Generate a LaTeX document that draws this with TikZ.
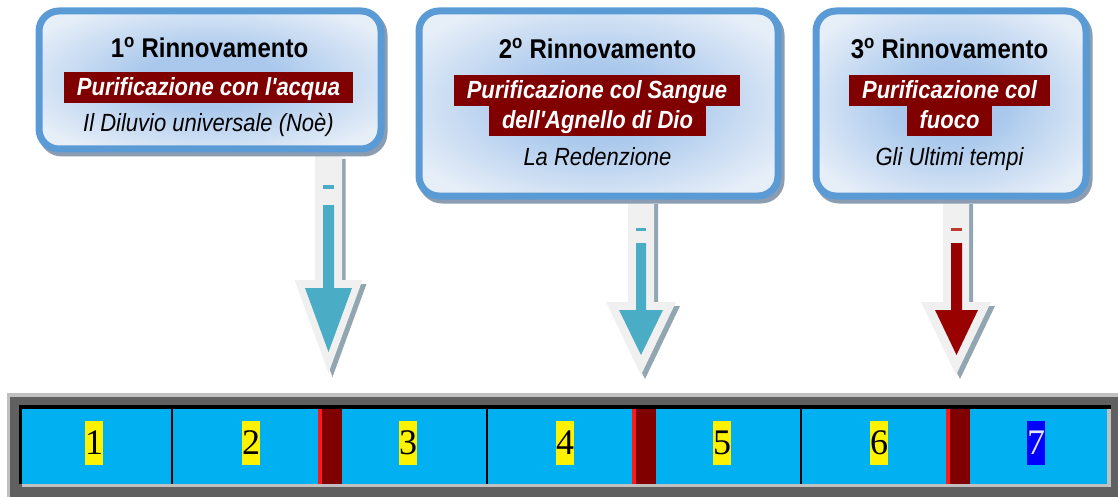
\documentclass[tikz,border=0pt]{standalone}
\usepackage{fontspec}
\usepackage{graphicx}
\newfontfamily\arialf{Liberation Sans}
\newfontfamily\timesf{Liberation Serif}
\usetikzlibrary{shadows}
\definecolor{bordc}{HTML}{5B9BD5}
\definecolor{shadc}{HTML}{8C9DB2}
\definecolor{glowc}{HTML}{A9C8EC}
\definecolor{edgec}{HTML}{E6EEF8}
\definecolor{bandc}{HTML}{800000}
\definecolor{tealc}{HTML}{4BACC6}
\definecolor{arrred}{HTML}{990000}
\definecolor{dashred}{HTML}{C0392B}
\definecolor{arrout}{HTML}{F0F0F0}
\definecolor{arrshad}{HTML}{91A6B1}
\definecolor{cyanc}{HTML}{00B0F0}
\definecolor{dgray}{HTML}{606060}
\definecolor{lgray}{HTML}{C0C0C0}
\definecolor{redstripe}{HTML}{FF1A1A}
\definecolor{darkband}{HTML}{800000}
\definecolor{numblue}{HTML}{0000FF}
\definecolor{numwhite}{HTML}{E6E6F5}
\newcommand\talltext[1]{\scalebox{1}[1.13]{#1}}
\pgfdeclareradialshading{boxglow}{\pgfpoint{0bp}{0bp}}{color(0bp)=(glowc); color(10bp)=(glowc); color(30bp)=(edgec); color(50bp)=(edgec)}
\tikzset{
  panel/.style={draw=bordc, line width=7pt, rounded corners=20pt, shading=boxglow,
    drop shadow={shadow xshift=3pt, shadow yshift=-4pt, draw=shadc, fill=shadc, line width=7pt, opacity=1},
    inner sep=0pt},
  title/.style={font=\arialf\bfseries\fontsize{24}{28}\selectfont, anchor=base, inner sep=0pt},
  band/.style={fill=bandc, text=white, font=\arialf\bfseries\itshape\fontsize{22}{26}\selectfont,
    inner xsep=13pt, inner ysep=5pt, text height=18.5pt, text depth=2.5pt},
  sub/.style={font=\arialf\itshape\fontsize{22}{26}\selectfont, anchor=base, inner sep=0pt},
  cellnum/.style={fill=yellow, font=\timesf\fontsize{36}{40}\selectfont, inner sep=0pt,
    text height=33pt, text depth=11pt, minimum width=18pt},
  lastnum/.style={cellnum, fill=numblue, text=numwhite},
  arrowbody/.style={fill=arrout},
  arrowshadow/.style={fill=arrshad},
  divider/.style={line width=2pt, black},
}
\begin{document}
\begin{tikzpicture}[x=1pt,y=-1pt]
\useasboundingbox (0,0) rectangle (1118,497);

% ---------- block arrows (behind the panels) ----------
% arrow 1
\fill[arrowshadow] (318.5,159) -- (345.5,159) -- (345.5,284) -- (366.5,284) -- (332.5,377) -- (298.5,284) -- (318.5,284) -- cycle;
\fill[arrowbody] (315,155) -- (342,155) -- (342,280) -- (362.5,280) -- (328.5,373) -- (294.5,280) -- (315,280) -- cycle;
\fill[tealc] (323,205) -- (334,205) -- (334,288) -- (352,288) -- (328.5,352) -- (305,288) -- (323,288) -- cycle;
\fill[tealc] (323,185) rectangle (334,189);
% arrow 2
\fill[arrowshadow] (632,204) -- (658,204) -- (658,306) -- (680,306) -- (645,379) -- (610,306) -- (632,306) -- cycle;
\fill[arrowbody] (628,200) -- (654,200) -- (654,302) -- (676,302) -- (641,375) -- (606,302) -- (628,302) -- cycle;
\fill[tealc] (636,243) -- (646,243) -- (646,310) -- (663,310) -- (641,355) -- (619,310) -- (636,310) -- cycle;
\fill[tealc] (636,228) rectangle (646,230.5);
% arrow 3
\fill[arrowshadow] (947,204) -- (973,204) -- (973,306) -- (995,306) -- (960,379) -- (925,306) -- (947,306) -- cycle;
\fill[arrowbody] (943,200) -- (969,200) -- (969,302) -- (991,302) -- (956,375) -- (921,302) -- (943,302) -- cycle;
\fill[arrred] (951,243) -- (962,243) -- (962,310) -- (978,310) -- (956.5,355) -- (935,310) -- (951,310) -- cycle;
\fill[dashred] (951,228) rectangle (962,230.5);

% ---------- panels ----------
\node[panel, minimum width=342pt, minimum height=138pt] (p1) at (210,80) {};
\node[panel, minimum width=359pt, minimum height=185pt] (p2) at (598.5,103.5) {};
\node[panel, minimum width=270pt, minimum height=185pt] (p3) at (951,103.5) {};

% panel 1 texts
\node[title] (t1) at (209.5,58) {\talltext{1\textsuperscript{o} Rinnovamento}};
\node[band] (b1) at (208.5,87.5) {\talltext{Purificazione con l'acqua}};
\node[sub] (s1) at (208.5,132) {\talltext{Il Diluvio universale (Noè)}};
% panel 2 texts
\node[title] (t2) at (597.5,59) {\talltext{2\textsuperscript{o} Rinnovamento}};
\node[band] (b2a) at (597,90.5) {\talltext{Purificazione col Sangue}};
\node[band] (b2b) at (597.5,121) {\talltext{dell'Agnello di Dio}};
\node[sub] (s2) at (597.5,166) {\talltext{La Redenzione}};
% panel 3 texts
\node[title] (t3) at (949.5,59) {\talltext{3\textsuperscript{o} Rinnovamento}};
\node[band] (b3a) at (949.5,90.5) {\talltext{Purificazione col}};
\node[band] (b3b) at (949.5,121) {\talltext{fuoco}};
\node[sub] (s3) at (949.5,166) {\talltext{Gli Ultimi tempi}};

% ---------- timeline bar ----------
\fill[lgray] (7,393) rectangle (1118,497);
\fill[dgray] (10,397) rectangle (1118,497);
\fill[black] (19,405) rectangle (1111,409);
\fill[black] (19,405) rectangle (22,484);
\fill[cyanc] (22,409) rectangle (1107,484);
\fill[lgray] (22,484) rectangle (1111,487);
\fill[lgray] (1107,409) rectangle (1111,487);
\draw[divider] (172,409) -- (172,484);
\draw[divider] (487,409) -- (487,484);
\draw[divider] (801,409) -- (801,484);
\foreach \bx in {318,632,946}{
  \fill[darkband] (\bx,409) rectangle (\bx+24,484);
  \fill[redstripe] (\bx,409) rectangle (\bx+4,484);
}
\node[cellnum] (n1) at (94,443) {1};
\node[cellnum] (n2) at (251,443) {2};
\node[cellnum] (n3) at (408,443) {3};
\node[cellnum] (n4) at (565,443) {4};
\node[cellnum] (n5) at (722,443) {5};
\node[cellnum] (n6) at (879,443) {6};
\node[lastnum] (n7) at (1036,443) {7};
\end{tikzpicture}
\end{document}
